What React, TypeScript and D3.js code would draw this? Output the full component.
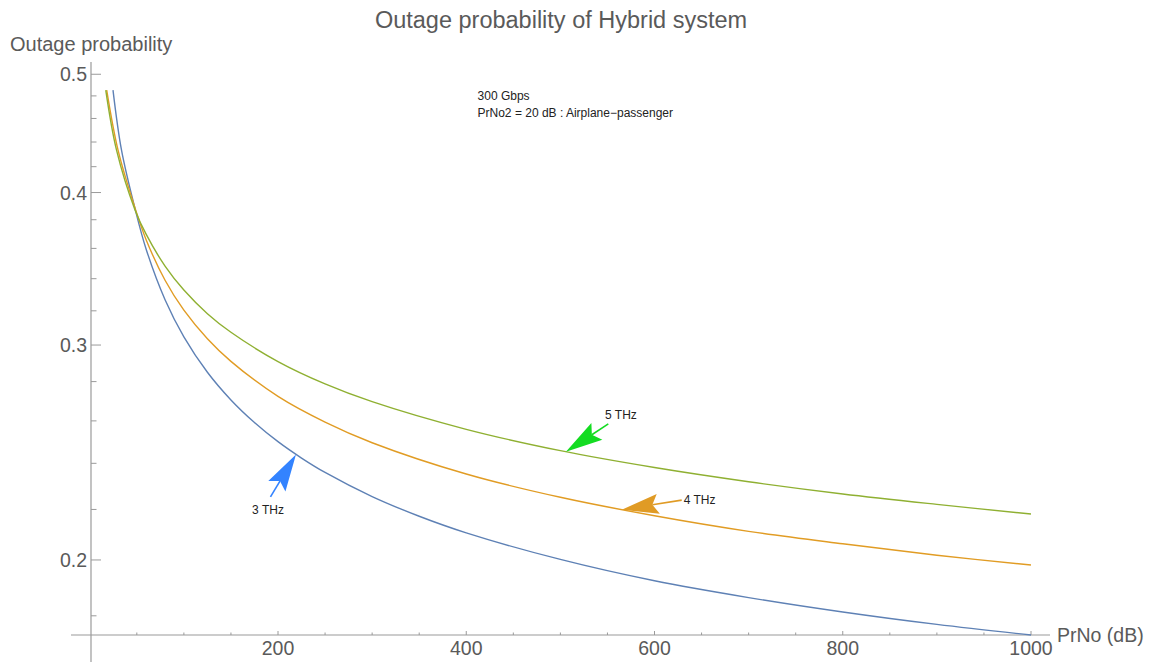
import React from "react";
import * as d3 from "d3";

// ---- data ----
const xBlue = [24.7, 33.7, 48, 60, 80, 100, 125, 150, 175, 200, 225, 250, 300, 350, 400, 500, 600, 700, 800, 900, 1000];
const yBlue = [0.4853, 0.4335, 0.3883, 0.3593, 0.3268, 0.3047, 0.285, 0.2705, 0.2592, 0.25, 0.2424, 0.2359, 0.2254, 0.2172, 0.2105, 0.2002, 0.1923, 0.1863, 0.1813, 0.1771, 0.1736];

const xOrange = [18, 30, 48, 60, 80, 100, 125, 150, 200, 250, 300, 400, 500, 600, 700, 800, 900, 1000];
const yOrange = [0.4853, 0.4335, 0.3887, 0.3658, 0.339, 0.3204, 0.3036, 0.2909, 0.2723, 0.2594, 0.2495, 0.2352, 0.2251, 0.2174, 0.2111, 0.2062, 0.2018, 0.1981];

const xGreen = [17, 28.4, 48, 60, 80, 100, 125, 150, 200, 250, 300, 400, 500, 600, 700, 800, 900, 1000];
const yGreen = [0.4853, 0.4335, 0.3873, 0.3696, 0.3482, 0.3328, 0.3183, 0.3073, 0.2908, 0.2788, 0.2696, 0.2559, 0.2458, 0.2381, 0.2318, 0.2265, 0.2221, 0.2181];

const xMajorTicks = [200, 400, 600, 800, 1000];
const xMinorTicks = [50, 100, 150, 250, 300, 350, 450, 500, 550, 650, 700, 750, 850, 900, 950];
const yMajorTicks = [0.2, 0.3, 0.4, 0.5];
const yMinorTicks = [0.18, 0.22, 0.24, 0.26, 0.28, 0.32, 0.34, 0.36, 0.38, 0.42, 0.44, 0.46, 0.48];

const annoLabels = ["3 THz", "4 THz", "5 THz"];
const annoTipX = [219.1, 565.2, 505.9];
const annoTipY = [0.244, 0.2199, 0.2453];
const annoTailX = [192, 628.9, 550.9];
const annoTailY = [0.2253, 0.2239, 0.2585];
const annoTextX = [189.4, 631, 547.5];
const annoTextY = [0.2198, 0.2239, 0.263];
const annoAnchor = ["middle", "start", "start"];
const annoColors = ["#3383FF", "#E09B25", "#14DC22"];

const title = "Outage probability of Hybrid system";
const yLabel = "Outage probability";
const xLabel = "PrNo (dB)";
const noteLines = ["300 Gbps", "PrNo2 = 20 dB : Airplane\u2212passenger"];
const noteX = 412;
const noteY = [0.4765, 0.4615];

const W = 1153;
const H = 664;
const FONT = "'Liberation Sans', Arial, sans-serif";
const axisColor = "#9a9a9a";
const textColor = "#5a5a5a";

export default function App() {
  const x = d3.scaleLinear().domain([0, 1000]).range([89.75, 1031]);
  const y = d3.scaleLog().domain([0.1736, 0.5117]).range([635, 62]);

  const line = d3
    .line<[number, number]>()
    .x((d) => x(d[0]))
    .y((d) => y(d[1]))
    .curve(d3.curveCatmullRom.alpha(0.5));

  const series = [
    { xs: xBlue, ys: yBlue, color: "#5E81B5" },
    { xs: xOrange, ys: yOrange, color: "#E19C24" },
    { xs: xGreen, ys: yGreen, color: "#8FB032" },
  ];

  const axisY = 635;
  const axisX = 91;

  const arrows = annoLabels.map((lab, i) => {
    const tx = x(annoTipX[i]);
    const ty = y(annoTipY[i]);
    const ex = x(annoTailX[i]);
    const ey = y(annoTailY[i]);
    const len = Math.hypot(ex - tx, ey - ty);
    const dx = (ex - tx) / len;
    const dy = (ey - ty) / len;
    const nx = -dy;
    const ny = dx;
    const L = 37;
    const Wd = 10;
    const notch = 6;
    const p = [
      [tx, ty],
      [tx + dx * L + nx * Wd, ty + dy * L + ny * Wd],
      [tx + dx * (L - notch), ty + dy * (L - notch)],
      [tx + dx * L - nx * Wd, ty + dy * L - ny * Wd],
    ];
    return {
      lab,
      color: annoColors[i],
      poly: p.map((q) => q.join(",")).join(" "),
      line: [tx + dx * (L - notch), ty + dy * (L - notch), ex, ey],
      textX: x(annoTextX[i]),
      textY: y(annoTextY[i]),
      anchor: annoAnchor[i],
    };
  });

  return (
    <svg
      width={W}
      height={H}
      style={{ position: "absolute", left: 0, top: 0, background: "#fff" }}
      fontFamily={FONT}
    >
      <defs>
        <clipPath id="plotclip">
          <rect x={axisX} y={62} width={1050 - axisX} height={axisY - 62 + 1} />
        </clipPath>
      </defs>
      {/* title */}
      <text x={561} y={28} textAnchor="middle" fontSize={23.5} fill={textColor}>
        {title}
      </text>
      {/* y label */}
      <text x={10} y={51} fontSize={20} fill={textColor}>
        {yLabel}
      </text>
      {/* axes */}
      <line x1={71} x2={1050} y1={axisY} y2={axisY} stroke={axisColor} strokeWidth={1.2} />
      <line x1={axisX} x2={axisX} y1={62} y2={662} stroke={axisColor} strokeWidth={1.2} />
      {/* x ticks */}
      {xMajorTicks.map((t) => (
        <g key={"xM" + t}>
          <line x1={x(t)} x2={x(t)} y1={axisY} y2={axisY - 4} stroke={axisColor} />
          <text x={x(t)} y={axisY + 20} textAnchor="middle" fontSize={19.5} fill={textColor}>
            {t}
          </text>
        </g>
      ))}
      {xMinorTicks.map((t) => (
        <line key={"xm" + t} x1={x(t)} x2={x(t)} y1={axisY} y2={axisY - 2.5} stroke={axisColor} />
      ))}
      <text x={1057} y={axisY + 6.5} fontSize={19.5} fill={textColor}>
        {xLabel}
      </text>
      {/* y ticks */}
      {yMajorTicks.map((t) => (
        <g key={"yM" + t}>
          <line x1={axisX} x2={axisX + 10} y1={y(t)} y2={y(t)} stroke={axisColor} />
          <text x={87} y={y(t) + 7} textAnchor="end" fontSize={19.5} fill={textColor}>
            {t.toFixed(1)}
          </text>
        </g>
      ))}
      {yMinorTicks.map((t) => (
        <line key={"ym" + t} x1={axisX} x2={axisX + 5.5} y1={y(t)} y2={y(t)} stroke={axisColor} />
      ))}
      {/* curves */}
      <g clipPath="url(#plotclip)">
        {series.map((s, i) => (
          <path
            key={i}
            d={line(s.xs.map((v, j) => [v, s.ys[j]] as [number, number])) || ""}
            fill="none"
            stroke={s.color}
            strokeWidth={1.4}
          />
        ))}
      </g>
      {/* note */}
      {noteLines.map((t, i) => (
        <text key={t} x={x(noteX)} y={y(noteY[i])} fontSize={12} fill="#222">
          {t}
        </text>
      ))}
      {/* arrows */}
      {arrows.map((a) => (
        <g key={a.lab}>
          <line x1={a.line[0]} y1={a.line[1]} x2={a.line[2]} y2={a.line[3]} stroke={a.color} strokeWidth={1.6} />
          <polygon points={a.poly} fill={a.color} />
          <text x={a.textX} y={a.textY + 4} textAnchor={a.anchor} fontSize={12} fill="#222">
            {a.lab}
          </text>
        </g>
      ))}
    </svg>
  );
}
